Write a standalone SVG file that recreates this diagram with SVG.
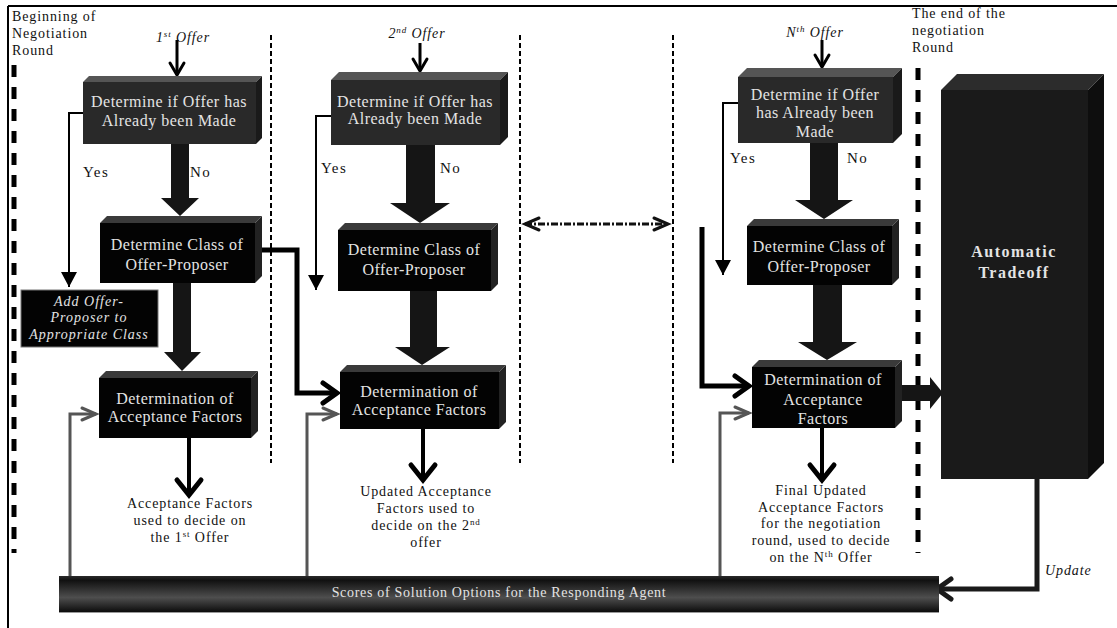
<svg xmlns="http://www.w3.org/2000/svg" width="1117" height="628" viewBox="0 0 1117 628">
<defs>
<style>
.bx{font-family:"Liberation Serif","Times New Roman",serif;font-size:16px;fill:#e4e4e4;text-anchor:middle;letter-spacing:0.5px}
.lbl{font-family:"Liberation Serif","Times New Roman",serif;font-size:14px;fill:#111;letter-spacing:0.9px}
.yn{font-family:"Liberation Serif","Times New Roman",serif;font-size:15px;fill:#111;letter-spacing:1.5px}
.ctr{text-anchor:middle}
.it{font-style:italic}
.f1{fill:#292929}.t1{fill:#555}.s1{fill:#1a1a1a}
.f2{fill:#030303}.t2{fill:#3a3a3a}.s2{fill:#222}
.blk{fill:#151515}
.dot{stroke:#000;stroke-width:2;stroke-dasharray:5 3;fill:none}
.bigdash{stroke:#000;stroke-width:5;stroke-dasharray:12 10;fill:none}
.thin{fill:none;stroke:#000;stroke-width:3}
.yes{fill:none;stroke:#000;stroke-width:2}
.conn{fill:none;stroke:#000;stroke-width:5}
.gray{fill:none;stroke:#555;stroke-width:3}
.down{fill:none;stroke:#000;stroke-width:4}
</style>
<marker id="mOffer" markerUnits="userSpaceOnUse" orient="auto" overflow="visible"><path d="M-12,-7 L0,0 L-12,7" fill="none" stroke="#000" stroke-width="3" stroke-linecap="round"/></marker>
<marker id="mTri" markerUnits="userSpaceOnUse" orient="auto" overflow="visible"><path d="M-15,-8 L0,0 L-15,8 Z" fill="#000"/></marker>
<marker id="mConn" markerUnits="userSpaceOnUse" orient="auto" overflow="visible"><path d="M-14,-10 L0,0 L-14,10" fill="none" stroke="#000" stroke-width="5" stroke-linecap="round"/></marker>
<marker id="mDown" markerUnits="userSpaceOnUse" orient="auto" overflow="visible"><path d="M-15,-12 L0,0 L-15,12" fill="none" stroke="#000" stroke-width="5" stroke-linecap="round"/></marker>
<marker id="mGray" markerUnits="userSpaceOnUse" orient="auto" overflow="visible"><path d="M-14,-6 L0,0 L-14,6" fill="none" stroke="#555" stroke-width="3" stroke-linecap="round"/></marker>
<marker id="mUpd" markerUnits="userSpaceOnUse" orient="auto" overflow="visible"><path d="M-14,-10 L0,0 L-14,10" fill="none" stroke="#1a1a1a" stroke-width="5" stroke-linecap="round"/></marker>
<marker id="mDash" markerUnits="userSpaceOnUse" orient="auto-start-reverse" overflow="visible"><path d="M-14,-6 L0,0 L-14,6" fill="none" stroke="#111" stroke-width="3" stroke-linecap="round"/></marker>
<linearGradient id="gBar" x1="0" y1="0" x2="0" y2="1">
<stop offset="0" stop-color="#2a2a2a"/><stop offset="0.12" stop-color="#111"/><stop offset="0.6" stop-color="#4e4e4e"/><stop offset="1" stop-color="#0c0c0c"/>
</linearGradient>
</defs>
<rect width="1117" height="628" fill="#fff"/>

<g id="frame">
<path d="M8,6 H1117 M8,6 V628" fill="none" stroke="#000" stroke-width="2"/>
<path class="bigdash" d="M14,65 V553"/>
<path class="bigdash" d="M918,68 V553"/>
<path class="dot" d="M271,35 V463"/>
<path class="dot" d="M520,35 V463"/>
<path class="dot" d="M673,35 V463"/>
</g>

<g id="labels">
<text class="lbl" x="12" y="21">Beginning of</text>
<text class="lbl" x="12" y="38">Negotiation</text>
<text class="lbl" x="12" y="55">Round</text>
<text class="lbl" x="912" y="18">The end of the</text>
<text class="lbl" x="912" y="35">negotiation</text>
<text class="lbl" x="912" y="52">Round</text>
<text class="lbl it ctr" x="183" y="42">1<tspan font-size="9" dy="-5">st</tspan><tspan dy="5"> Offer</tspan></text>
<text class="lbl it ctr" x="417" y="38">2<tspan font-size="9" dy="-5">nd</tspan><tspan dy="5"> Offer</tspan></text>
<text class="lbl it ctr" x="815" y="37">N<tspan font-size="9" dy="-5">th</tspan><tspan dy="5"> Offer</tspan></text>
<text class="yn" x="83" y="177">Yes</text>
<text class="yn" x="190" y="177">No</text>
<text class="yn" x="321" y="173">Yes</text>
<text class="yn" x="440" y="173">No</text>
<text class="yn" x="730" y="163">Yes</text>
<text class="yn" x="847" y="163">No</text>
<text class="lbl ctr" x="190" y="508">Acceptance Factors</text>
<text class="lbl ctr" x="190" y="525">used to decide on</text>
<text class="lbl ctr" x="190" y="542">the 1<tspan font-size="9" dy="-5">st</tspan><tspan dy="5"> Offer</tspan></text>
<text class="lbl ctr" x="426" y="496">Updated Acceptance</text>
<text class="lbl ctr" x="426" y="513">Factors used to</text>
<text class="lbl ctr" x="426" y="530">decide on the 2<tspan font-size="9" dy="-5">nd</tspan></text>
<text class="lbl ctr" x="426" y="547">offer</text>
<text class="lbl ctr" x="821" y="495">Final Updated</text>
<text class="lbl ctr" x="821" y="512">Acceptance Factors</text>
<text class="lbl ctr" x="821" y="528">for the negotiation</text>
<text class="lbl ctr" x="821" y="545">round, used to decide</text>
<text class="lbl ctr" x="821" y="562">on the N<tspan font-size="9" dy="-5">th</tspan><tspan dy="5"> Offer</tspan></text>
<text class="lbl it" x="1045" y="575">Update</text>
</g>

<g id="connectors">
<path class="thin" d="M177,40 V75" marker-end="url(#mOffer)"/>
<path class="thin" d="M420,43 V71" marker-end="url(#mOffer)"/>
<path class="thin" d="M822,40 V67" marker-end="url(#mOffer)"/>
<path class="yes" d="M83,113 H69 V287" marker-end="url(#mTri)"/>
<path class="yes" d="M331,116 H316 V290" marker-end="url(#mTri)"/>
<path class="yes" d="M738,103 H723 V275" marker-end="url(#mTri)"/>
<polygon class="blk" points="171,144 189,144 189,198 199,198 180,216 161,198 171,198"/>
<polygon class="blk" points="173,283 191,283 191,352 201,352 182,371 164,352 173,352"/>
<polygon class="blk" points="406,145 435,145 435,203 450,203 420,223 390,203 406,203"/>
<polygon class="blk" points="410,291 437,291 437,347 450,347 422,365 395,347 410,347"/>
<polygon class="blk" points="810,143 838,143 838,200 853,200 824,219 795,200 810,200"/>
<polygon class="blk" points="813,285 842,285 842,342 857,342 827,360 798,342 813,342"/>
<polygon class="blk" points="902,385 930,385 930,377 943,393 930,409 930,401 902,401"/>
<path class="conn" d="M262,250 H297 V393 H337" marker-end="url(#mConn)"/>
<path class="conn" d="M702,227 V386 H749" marker-end="url(#mConn)"/>
<path class="down" d="M189,438 V495" marker-end="url(#mDown)"/>
<path class="down" d="M423,429 V480" marker-end="url(#mDown)"/>
<path class="down" d="M822,428 V480" marker-end="url(#mDown)"/>
<path class="gray" d="M70,576 V414 H96" marker-end="url(#mGray)"/>
<path class="gray" d="M307,576 V414 H337" marker-end="url(#mGray)"/>
<path class="gray" d="M720,576 V413 H749" marker-end="url(#mGray)"/>
<path d="M1037,479 V589 H937" fill="none" stroke="#1a1a1a" stroke-width="5" marker-end="url(#mUpd)"/>
<path d="M525,224 H668" fill="none" stroke="#111" stroke-width="3" stroke-dasharray="7 2 2 2" marker-start="url(#mDash)" marker-end="url(#mDash)"/>
</g>

<g id="n1-check">
<rect class="f1" x="83" y="82" width="173" height="62"/>
<polygon class="t1" points="83,82 89,76 262,76 256,82"/>
<polygon class="s1" points="256,82 262,76 262,138 256,144"/>
<text class="bx" x="169" y="107">Determine if Offer has</text>
<text class="bx" x="169" y="126">Already been Made</text>
</g>
<g id="n1-class">
<rect class="f2" x="100" y="223" width="155" height="60"/>
<polygon class="t2" points="100,223 107,216 262,216 255,223"/>
<polygon class="s2" points="255,223 262,216 262,276 255,283"/>
<text class="bx" x="177" y="250">Determine Class of</text>
<text class="bx" x="177" y="270">Offer-Proposer</text>
</g>
<g id="n1-add">
<rect x="21" y="290" width="137" height="57" fill="#030303" stroke="#777" stroke-width="1"/>
<text class="bx it" style="font-size:14px;letter-spacing:1px" x="89" y="306">Add Offer-</text>
<text class="bx it" style="font-size:14px;letter-spacing:1px" x="89" y="322">Proposer to</text>
<text class="bx it" style="font-size:14px;letter-spacing:1px" x="89" y="339">Appropriate Class</text>
</g>
<g id="n1-accept">
<rect class="f2" x="99" y="378" width="152" height="60"/>
<polygon class="t2" points="99,378 106,371 258,371 251,378"/>
<polygon class="s2" points="251,378 258,371 258,431 251,438"/>
<text class="bx" x="175" y="404">Determination of</text>
<text class="bx" x="175" y="422">Acceptance Factors</text>
</g>

<g id="n2-check">
<rect class="f1" x="331" y="80" width="169" height="65"/>
<polygon class="t1" points="331,80 339,72 508,72 500,80"/>
<polygon class="s1" points="500,80 508,72 508,137 500,145"/>
<text class="bx" x="415" y="107">Determine if Offer has</text>
<text class="bx" x="415" y="124">Already been Made</text>
</g>
<g id="n2-class">
<rect class="f2" x="338" y="230" width="153" height="61"/>
<polygon class="t2" points="338,230 345,223 498,223 491,230"/>
<polygon class="s2" points="491,230 498,223 498,284 491,291"/>
<text class="bx" x="414" y="255">Determine Class of</text>
<text class="bx" x="414" y="275">Offer-Proposer</text>
</g>
<g id="n2-accept">
<rect class="f2" x="340" y="372" width="159" height="57"/>
<polygon class="t2" points="340,372 347,365 506,365 499,372"/>
<polygon class="s2" points="499,372 506,365 506,422 499,429"/>
<text class="bx" x="419" y="397">Determination of</text>
<text class="bx" x="419" y="415">Acceptance Factors</text>
</g>

<g id="nN-check">
<rect class="f1" x="738" y="77" width="155" height="66"/>
<polygon class="t1" points="738,77 747,68 902,68 893,77"/>
<polygon class="s1" points="893,77 902,68 902,134 893,143"/>
<text class="bx" x="815" y="100">Determine if Offer</text>
<text class="bx" x="815" y="118">has Already been</text>
<text class="bx" x="815" y="137">Made</text>
</g>
<g id="nN-class">
<rect class="f2" x="747" y="226" width="145" height="59"/>
<polygon class="t2" points="747,226 754,219 899,219 892,226"/>
<polygon class="s2" points="892,226 899,219 899,278 892,285"/>
<text class="bx" x="819" y="252">Determine Class of</text>
<text class="bx" x="819" y="272">Offer-Proposer</text>
</g>
<g id="nN-accept">
<rect class="f2" x="752" y="367" width="143" height="61"/>
<polygon class="t2" points="752,367 759,360 902,360 895,367"/>
<polygon class="s2" points="895,367 902,360 902,421 895,428"/>
<text class="bx" x="823" y="385">Determination of</text>
<text class="bx" x="823" y="405">Acceptance</text>
<text class="bx" x="823" y="424">Factors</text>
</g>

<g id="tradeoff">
<rect x="941" y="90" width="147" height="389" fill="#1a1a1a"/>
<polygon points="941,90 957,74 1104,74 1088,90" fill="#2c2c2c"/>
<polygon points="1088,90 1104,74 1104,463 1088,479" fill="#0e0e0e"/>
<text class="bx" style="font-size:16px;font-weight:bold;letter-spacing:1.5px" x="1014" y="257">Automatic</text>
<text class="bx" style="font-size:16px;font-weight:bold;letter-spacing:1.5px" x="1014" y="278">Tradeoff</text>
</g>

<g id="scores">
<rect x="59" y="576" width="880" height="36" fill="url(#gBar)"/>
<line x1="59" y1="612.5" x2="939" y2="612.5" stroke="#999" stroke-width="1"/>
<text class="bx" style="font-size:14px;letter-spacing:0.7px" x="499" y="597">Scores of Solution Options for the Responding Agent</text>
</g>
</svg>
